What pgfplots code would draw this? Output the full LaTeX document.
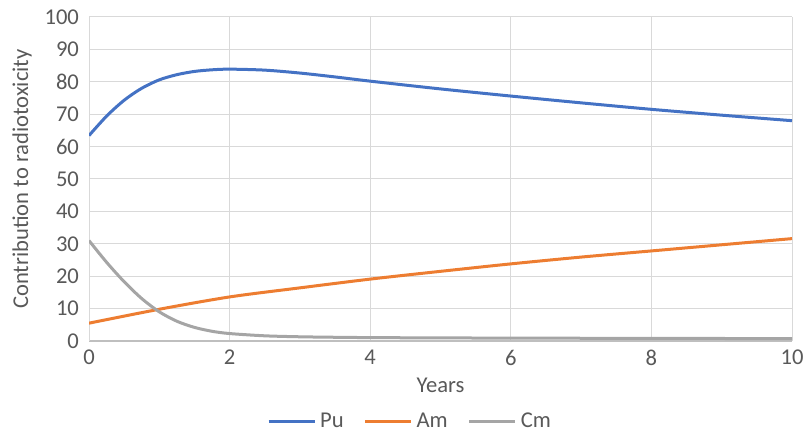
\documentclass[border=0pt]{standalone}
\usepackage{fontspec}
\setmainfont{Carlito}
\usepackage{pgfplots}
\pgfplotsset{compat=1.18}
\definecolor{cPu}{HTML}{4472C4}
\definecolor{cAm}{HTML}{ED7D31}
\definecolor{cCm}{HTML}{A5A5A5}
\definecolor{txt}{HTML}{595959}
\definecolor{grd}{HTML}{D9D9D9}
\definecolor{axl}{HTML}{BFBFBF}
\begin{document}
\begin{tikzpicture}
\begin{axis}[
  at={(0,0)}, anchor=south west,
  scale only axis, width=351.5pt, height=162pt,
  xmin=0, xmax=10, ymin=0, ymax=100,
  xtick={0,2,4,6,8,10}, ytick={0,10,...,100},
  grid=major, major grid style={grd, line width=0.5pt},
  major tick length=0pt,
  axis x line*=bottom, axis y line*=left,
  x axis line style={axl, line width=0.8pt, -},
  y axis line style={grd, line width=0.5pt, -},
  /pgf/number format/assume math mode=true,
  font=\fontsize{11.3}{13}\selectfont\color{txt},
  tick label style={font=\fontsize{11.3}{13}\selectfont\color{txt}},
  xticklabel style={yshift=-1pt},
  yticklabel style={xshift=-1.5pt},
  xlabel={Years},
  ylabel={Contribution to radiotoxicity},
  xlabel style={at={(axis description cs:0.5,-0.136)}, anchor=center, font=\fontsize{11.3}{13}\selectfont\color{txt}},
  ylabel style={at={(axis description cs:-0.0953,0.5)}, anchor=center, font=\fontsize{11.3}{13}\selectfont\color{txt}},
  legend style={at={(axis description cs:0.458,-0.25)}, anchor=center, draw=none, fill=none,
    legend columns=3, font=\fontsize{11.3}{13}\selectfont\color{txt},
    /tikz/every even column/.append style={column sep=8pt}},
  legend image code/.code={\draw[#1] (0pt,0pt) -- (23pt,0pt);},
  every axis plot/.append style={line width=1.5pt, no markers, smooth},
]
\addplot[cPu] coordinates {
(0,63.4) (0.25,69.4) (0.5,74.3) (0.75,78.0) (1,80.6) (1.25,82.2) (1.5,83.2) (1.75,83.7) (2,83.9) (2.5,83.6) (3,82.7) (3.5,81.5) (4,80.2) (5,77.8) (6,75.6) (7,73.5) (8,71.5) (9,69.7) (10,68.0)};
\addlegendentry{Pu}
\addplot[cAm] coordinates {
(0,5.5) (1,9.8) (2,13.6) (3,16.4) (4,19.1) (5,21.5) (6,23.8) (7,25.9) (8,27.8) (9,29.7) (10,31.6)};
\addlegendentry{Am}
\addplot[cCm] coordinates {
(0,31) (0.25,24.3) (0.5,18.3) (0.75,13.1) (1,9.0) (1.25,6.1) (1.5,4.2) (1.75,3.0) (2,2.3) (2.5,1.6) (3,1.3) (3.5,1.15) (4,1.05) (5,0.95) (6,0.9) (8,0.8) (10,0.75)};
\addlegendentry{Cm}
\end{axis}
\pgfresetboundingbox
\useasboundingbox (-44.5pt,-46pt) rectangle (357pt,170.5pt);
\end{tikzpicture}
\end{document}
